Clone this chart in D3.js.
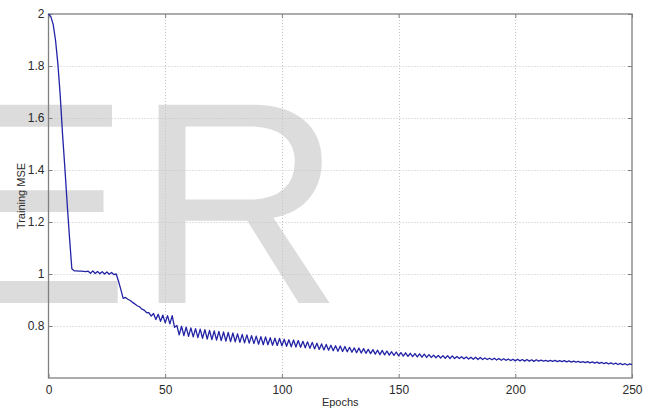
<!DOCTYPE html>
<html><head><meta charset="utf-8">
<script src="https://cdn.jsdelivr.net/npm/d3@7"></script>
<style>
html,body{margin:0;padding:0;background:#fff;}
svg{display:block;font-family:"Liberation Sans",Arial,sans-serif;}
</style></head>
<body>
<svg id="chart" width="652" height="409"></svg>
<script>
// Training MSE per epoch (index = epoch 0..250)
const mse = [
2.000,1.990,1.960,1.900,1.810,1.690,1.540,1.410,1.270,1.140,
1.020,1.012,1.012,1.011,1.011,1.010,1.009,1.011,1.003,1.012,
1.002,1.010,1.001,1.009,1.000,1.008,0.999,1.006,0.998,1.000,
0.972,0.940,0.906,0.910,0.903,0.898,0.891,0.885,0.878,0.874,
0.865,0.861,0.852,0.851,0.838,0.848,0.825,0.845,0.818,0.842,
0.812,0.840,0.808,0.840,0.795,0.802,0.766,0.799,0.763,0.796,
0.760,0.793,0.758,0.790,0.755,0.788,0.753,0.786,0.750,0.783,
0.748,0.781,0.746,0.779,0.744,0.777,0.742,0.775,0.740,0.773,
0.739,0.770,0.737,0.768,0.735,0.766,0.734,0.763,0.732,0.761,
0.730,0.759,0.728,0.758,0.728,0.755,0.726,0.753,0.725,0.752,
0.724,0.749,0.722,0.747,0.720,0.746,0.719,0.744,0.718,0.741,
0.716,0.739,0.714,0.737,0.712,0.734,0.710,0.731,0.708,0.729,
0.707,0.726,0.705,0.724,0.703,0.723,0.702,0.721,0.701,0.718,
0.699,0.716,0.697,0.715,0.696,0.713,0.695,0.710,0.694,0.709,
0.692,0.707,0.690,0.706,0.689,0.704,0.688,0.701,0.687,0.700,
0.685,0.698,0.684,0.697,0.683,0.695,0.682,0.694,0.681,0.693,
0.680,0.692,0.679,0.690,0.679,0.688,0.678,0.687,0.677,0.686,
0.676,0.686,0.675,0.685,0.675,0.683,0.675,0.682,0.674,0.681,
0.673,0.680,0.672,0.680,0.671,0.679,0.671,0.677,0.671,0.676,
0.670,0.676,0.669,0.675,0.668,0.674,0.668,0.673,0.667,0.672,
0.666,0.672,0.666,0.671,0.665,0.671,0.665,0.670,0.664,0.670,
0.665,0.669,0.665,0.668,0.664,0.668,0.664,0.668,0.663,0.667,
0.663,0.667,0.662,0.666,0.661,0.665,0.661,0.664,0.660,0.663,
0.659,0.663,0.658,0.662,0.657,0.661,0.656,0.660,0.655,0.659,
0.654,0.658,0.653,0.657,0.652,0.656,0.651,0.655,0.650,0.654,
0.651
];
const epochs = mse.map((_, i) => i);
const xTicks = [0, 50, 100, 150, 200, 250];
const yTicks = [0.8, 1.0, 1.2, 1.4, 1.6, 1.8, 2.0];
const xDomain = [0, 250];
const yDomain = [0.6, 2.0];
const xLabel = "Epochs";
const yLabel = "Training MSE";
const watermarkLeft = "E";
const watermarkRight = "R";

const svg = d3.select("#chart");
const L = 48.5, R = 632, T = 14, B = 378;
const x = d3.scaleLinear().domain(xDomain).range([L, R]);
const y = d3.scaleLinear().domain(yDomain).range([B, T]);

// watermark (behind everything)
const wm = svg.append("g").attr("fill", "#dcdcdc")
  .style("font-family", "'Liberation Sans', Arial, sans-serif")
  .style("font-size", "288px");
wm.append("text").attr("x", -62).attr("y", 303).text(watermarkLeft);
wm.append("text").attr("x", 135).attr("y", 303).text(watermarkRight);

// grid
const grid = svg.append("g").attr("stroke", "#c4c4c4").attr("stroke-width", 1)
  .attr("stroke-dasharray", "1,2");
grid.selectAll(".gx").data(xTicks.filter(d => d > xDomain[0] && d < xDomain[1])).join("line")
  .attr("x1", d => Math.round(x(d)) + 0.5).attr("x2", d => Math.round(x(d)) + 0.5)
  .attr("y1", T).attr("y2", B);
grid.selectAll(".gy").data(yTicks.filter(d => d > yDomain[0] && d < yDomain[1])).join("line")
  .attr("y1", d => Math.round(y(d)) + 0.5).attr("y2", d => Math.round(y(d)) + 0.5)
  .attr("x1", L).attr("x2", R);

// axes
const axColor = "#808080";
const xAxisB = svg.append("g").attr("transform", `translate(0,${B})`)
  .call(d3.axisBottom(x).tickValues(xTicks).tickSize(-4).tickPadding(7).tickFormat(d3.format("d")));
const xAxisT = svg.append("g").attr("transform", `translate(0,${T})`)
  .call(d3.axisTop(x).tickValues(xTicks).tickSize(-4).tickFormat(""));
const yAxisL = svg.append("g").attr("transform", `translate(${L},0)`)
  .call(d3.axisLeft(y).tickValues(yTicks).tickSize(-4).tickPadding(4).tickFormat(d => d3.format("~g")(d)));
const yAxisR = svg.append("g").attr("transform", `translate(${R},0)`)
  .call(d3.axisRight(y).tickValues(yTicks).tickSize(-4).tickFormat(""));
[xAxisB, xAxisT, yAxisL, yAxisR].forEach(g => {
  g.select(".domain").remove();
  g.selectAll(".tick line").attr("stroke", axColor);
  g.selectAll(".tick text").attr("fill", "#2a2a2a")
    .style("font-family", "'Liberation Sans', Arial, sans-serif").style("font-size", "12px");
});
svg.append("rect").attr("x", L).attr("y", T).attr("width", R - L).attr("height", B - T)
  .attr("fill", "none").attr("stroke", axColor).attr("stroke-width", 1.3);

// line
const line = d3.line().x((d, i) => x(epochs[i])).y(d => y(d));
svg.append("path").datum(mse).attr("d", line)
  .attr("fill", "none").attr("stroke", "#2323a6").attr("stroke-width", 1.3)
  .attr("stroke-linejoin", "round");

// labels
svg.append("text").attr("x", (L + R) / 2).attr("y", 406).attr("text-anchor", "middle")
  .attr("fill", "#2a2a2a").style("font-size", "11px").text(xLabel);
svg.append("text").attr("transform", `translate(25,${(T + B) / 2}) rotate(-90)`)
  .attr("text-anchor", "middle").attr("fill", "#2a2a2a").style("font-size", "11px").text(yLabel);
</script>
</body></html>
